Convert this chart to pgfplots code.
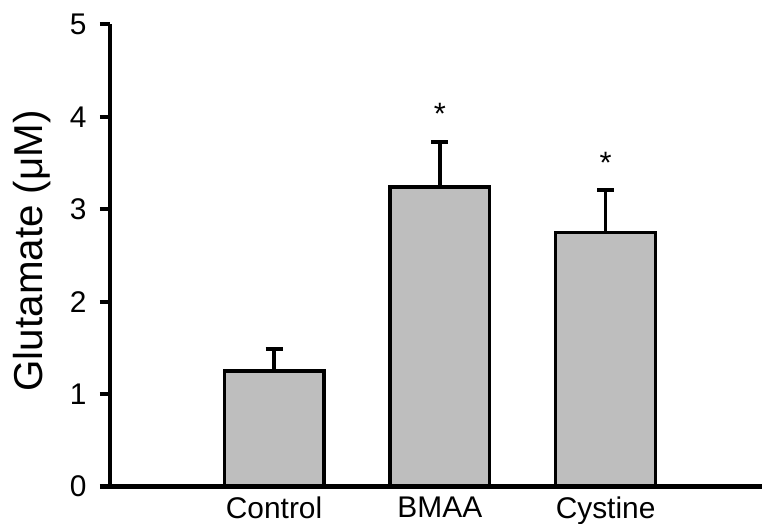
\documentclass[border=0pt]{standalone}
\usepackage{pgfplots}
\pgfplotsset{compat=1.18}
\usepackage{fontspec}
\setmainfont{Liberation Sans}
\definecolor{bargray}{RGB}{190,190,190}
\begin{document}
\begin{tikzpicture}
\path[use as bounding box] (-110bp,-37.5bp) rectangle (652bp,486.5bp);
\begin{axis}[
  at={(0,0)}, anchor=south west,
  scale only axis,
  width=677.9bp, height=462bp,
  xmin=0.01, xmax=4.1,
  ymin=0, ymax=5,
  axis x line*=bottom, axis y line*=left,
  axis line style={line width=4.5bp},
  ytick={0,1,2,3,4,5},
  xtick={1,2,3},
  xticklabels={Control,BMAA,Cystine},
  x tick style={draw=none},
  y tick style={line width=4bp, black},
  tick align=outside,
  major tick length=10bp,
  /pgf/number format/assume math mode=true,
  xticklabel style={font=\fontsize{30}{36}\selectfont, anchor=north, yshift=3bp},
  yticklabel style={font=\fontsize{30}{36}\selectfont, anchor=east, xshift=-10bp},
  ylabel={Glutamate (μM)},
  ylabel style={font=\fontsize{40.5}{48}\selectfont, at={(axis description cs:-0.115,0.51)}, anchor=center},
  clip=false,
]
\addplot[ybar, bar width=0.6015, fill=bargray, draw=black, line width=3.3bp,
  error bars/.cd, y dir=plus, y explicit,
  error mark=|,
  error bar style={line width=3.8bp, black},
  error mark options={line width=3.8bp, mark size=8.5bp, black}]
  coordinates {(1,1.25) +- (0,0.24) (2,3.24) +- (0,0.49) (3,2.75) +- (0,0.46)};
\addplot[black, line width=4.5bp, mark=none] coordinates {(0.01,0) (4.1,0)};
\addplot[draw=none, mark=none, nodes near coords={*},
  every node near coord/.style={font=\fontsize{31}{36}\selectfont, anchor=center}]
  coordinates {(2,4.03) (3,3.50)};
\end{axis}
\end{tikzpicture}
\end{document}
